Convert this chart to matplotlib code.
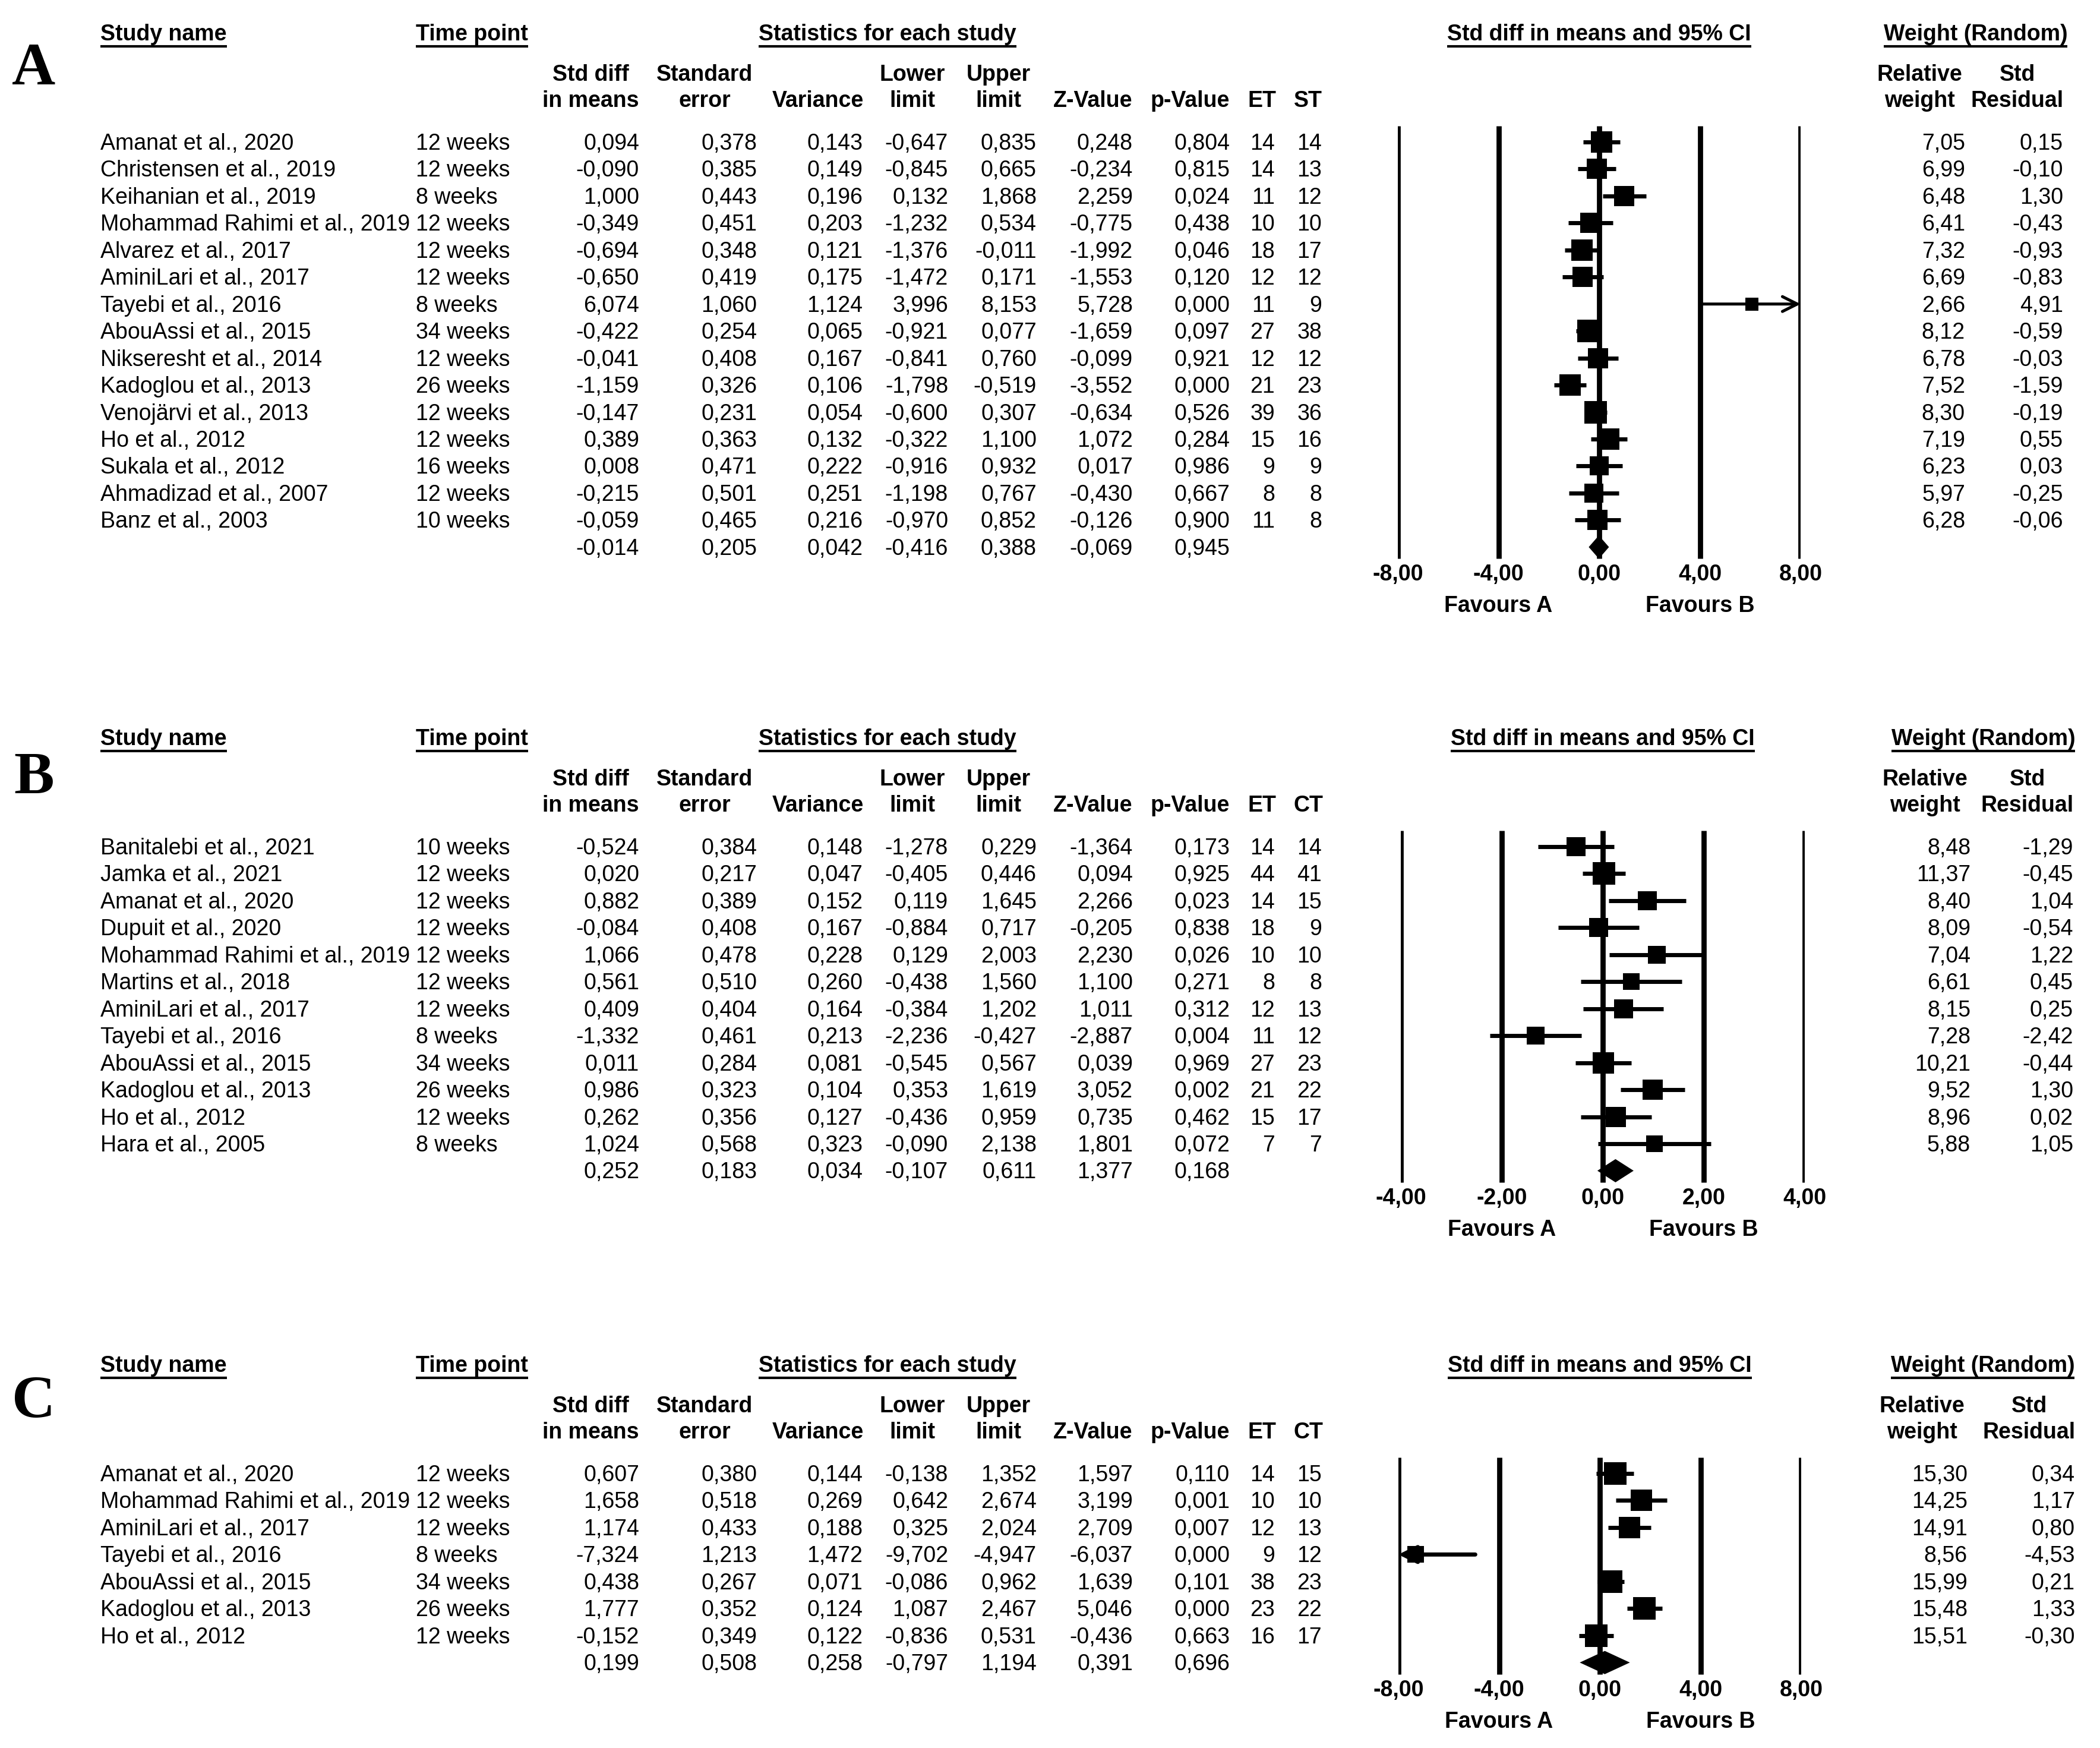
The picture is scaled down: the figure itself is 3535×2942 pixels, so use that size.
import matplotlib
matplotlib.use('Agg')
import matplotlib.pyplot as plt
import numpy as np

# ---- panel A (exercise vs standard treatment) ----
names_a = ["Amanat et al., 2020", "Christensen et al., 2019", "Keihanian et al., 2019",
           "Mohammad Rahimi et al., 2019", "Alvarez et al., 2017", "AminiLari et al., 2017",
           "Tayebi et al., 2016", "AbouAssi et al., 2015", "Nikseresht et al., 2014",
           "Kadoglou et al., 2013", "Venojärvi et al., 2013", "Ho et al., 2012",
           "Sukala et al., 2012", "Ahmadizad et al., 2007", "Banz et al., 2003"]
weeks_a = [12, 12, 8, 12, 12, 12, 8, 34, 12, 26, 12, 12, 16, 12, 10]
smd_a = [0.094, -0.090, 1.000, -0.349, -0.694, -0.650, 6.074, -0.422, -0.041, -1.159, -0.147, 0.389, 0.008, -0.215, -0.059]
se_a = [0.378, 0.385, 0.443, 0.451, 0.348, 0.419, 1.060, 0.254, 0.408, 0.326, 0.231, 0.363, 0.471, 0.501, 0.465]
var_a = [0.143, 0.149, 0.196, 0.203, 0.121, 0.175, 1.124, 0.065, 0.167, 0.106, 0.054, 0.132, 0.222, 0.251, 0.216]
lo_a = [-0.647, -0.845, 0.132, -1.232, -1.376, -1.472, 3.996, -0.921, -0.841, -1.798, -0.600, -0.322, -0.916, -1.198, -0.970]
hi_a = [0.835, 0.665, 1.868, 0.534, -0.011, 0.171, 8.153, 0.077, 0.760, -0.519, 0.307, 1.100, 0.932, 0.767, 0.852]
z_a = [0.248, -0.234, 2.259, -0.775, -1.992, -1.553, 5.728, -1.659, -0.099, -3.552, -0.634, 1.072, 0.017, -0.430, -0.126]
p_a = [0.804, 0.815, 0.024, 0.438, 0.046, 0.120, 0.000, 0.097, 0.921, 0.000, 0.526, 0.284, 0.986, 0.667, 0.900]
et_a = [14, 14, 11, 10, 18, 12, 11, 27, 12, 21, 39, 15, 9, 8, 11]
st_a = [14, 13, 12, 10, 17, 12, 9, 38, 12, 23, 36, 16, 9, 8, 8]
relw_a = [7.05, 6.99, 6.48, 6.41, 7.32, 6.69, 2.66, 8.12, 6.78, 7.52, 8.30, 7.19, 6.23, 5.97, 6.28]
resid_a = [0.15, -0.10, 1.30, -0.43, -0.93, -0.83, 4.91, -0.59, -0.03, -1.59, -0.19, 0.55, 0.03, -0.25, -0.06]
pooled_a = [-0.014, 0.205, 0.042, -0.416, 0.388, -0.069, 0.945]

# ---- panel B ----
names_b = ["Banitalebi et al., 2021", "Jamka et al., 2021", "Amanat et al., 2020",
           "Dupuit et al., 2020", "Mohammad Rahimi et al., 2019", "Martins et al., 2018",
           "AminiLari et al., 2017", "Tayebi et al., 2016", "AbouAssi et al., 2015",
           "Kadoglou et al., 2013", "Ho et al., 2012", "Hara et al., 2005"]
weeks_b = [10, 12, 12, 12, 12, 12, 12, 8, 34, 26, 12, 8]
smd_b = [-0.524, 0.020, 0.882, -0.084, 1.066, 0.561, 0.409, -1.332, 0.011, 0.986, 0.262, 1.024]
se_b = [0.384, 0.217, 0.389, 0.408, 0.478, 0.510, 0.404, 0.461, 0.284, 0.323, 0.356, 0.568]
var_b = [0.148, 0.047, 0.152, 0.167, 0.228, 0.260, 0.164, 0.213, 0.081, 0.104, 0.127, 0.323]
lo_b = [-1.278, -0.405, 0.119, -0.884, 0.129, -0.438, -0.384, -2.236, -0.545, 0.353, -0.436, -0.090]
hi_b = [0.229, 0.446, 1.645, 0.717, 2.003, 1.560, 1.202, -0.427, 0.567, 1.619, 0.959, 2.138]
z_b = [-1.364, 0.094, 2.266, -0.205, 2.230, 1.100, 1.011, -2.887, 0.039, 3.052, 0.735, 1.801]
p_b = [0.173, 0.925, 0.023, 0.838, 0.026, 0.271, 0.312, 0.004, 0.969, 0.002, 0.462, 0.072]
et_b = [14, 44, 14, 18, 10, 8, 12, 11, 27, 21, 15, 7]
ct_b = [14, 41, 15, 9, 10, 8, 13, 12, 23, 22, 17, 7]
relw_b = [8.48, 11.37, 8.40, 8.09, 7.04, 6.61, 8.15, 7.28, 10.21, 9.52, 8.96, 5.88]
resid_b = [-1.29, -0.45, 1.04, -0.54, 1.22, 0.45, 0.25, -2.42, -0.44, 1.30, 0.02, 1.05]
pooled_b = [0.252, 0.183, 0.034, -0.107, 0.611, 1.377, 0.168]

# ---- panel C ----
names_c = ["Amanat et al., 2020", "Mohammad Rahimi et al., 2019", "AminiLari et al., 2017",
           "Tayebi et al., 2016", "AbouAssi et al., 2015", "Kadoglou et al., 2013", "Ho et al., 2012"]
weeks_c = [12, 12, 12, 8, 34, 26, 12]
smd_c = [0.607, 1.658, 1.174, -7.324, 0.438, 1.777, -0.152]
se_c = [0.380, 0.518, 0.433, 1.213, 0.267, 0.352, 0.349]
var_c = [0.144, 0.269, 0.188, 1.472, 0.071, 0.124, 0.122]
lo_c = [-0.138, 0.642, 0.325, -9.702, -0.086, 1.087, -0.836]
hi_c = [1.352, 2.674, 2.024, -4.947, 0.962, 2.467, 0.531]
z_c = [1.597, 3.199, 2.709, -6.037, 1.639, 5.046, -0.436]
p_c = [0.110, 0.001, 0.007, 0.000, 0.101, 0.000, 0.663]
et_c = [14, 10, 12, 9, 38, 23, 16]
ct_c = [15, 10, 13, 12, 23, 22, 17]
relw_c = [15.30, 14.25, 14.91, 8.56, 15.99, 15.48, 15.51]
resid_c = [0.34, 1.17, 0.80, -4.53, 0.21, 1.33, -0.30]
pooled_c = [0.199, 0.508, 0.258, -0.797, 1.194, 0.391, 0.696]

ticks_a = [-8, -4, 0, 4, 8]
ticks_b = [-4, -2, 0, 2, 4]
ticks_c = [-8, -4, 0, 4, 8]

W, H = 3535, 2942
STEP = 45.45
SANS = 'Liberation Sans'
FS = 27

fig = plt.figure(figsize=(W / 100, H / 100), dpi=100)
tab = fig.add_axes([0, 0, 1, 1])
tab.set_xlim(0, W)
tab.set_ylim(H, 0)
tab.axis('off')
renderer = fig.canvas.get_renderer()


def fmt(v, d=3):
    return f"{v:.{d}f}".replace('.', ',')


def underlined(x, y, s, ha):
    t = tab.text(x, y, s, ha=ha, va='baseline', fontsize=FS, fontweight='bold', family=SANS)
    bb = t.get_window_extent(renderer=renderer)
    tab.plot([bb.x0, bb.x1], [y + 10, y + 10], color='black', lw=3, solid_capstyle='butt')


num_right = [1076, 1274, 1452, 1596, 1745, 1907, 2070, 2146, 2225]
heads = [(994, "Std diff", "in means"), (1186, "Standard", "error"), (1377, None, "Variance"),
         (1536, "Lower", "limit"), (1681, "Upper", "limit"), (1840, None, "Z-Value"),
         (2003, None, "p-Value"), (2124, None, "ET")]


def draw_panel(letter, letter_y, top, names, weeks, cols, et, ct, ct_label, relw, resid, pooled,
               ticks, fx, rw_r, res_r):
    n = len(names)
    row0 = top + 171
    tab.text(57, letter_y, letter, ha='center', va='baseline', fontsize=73,
             fontweight='bold', family='Liberation Serif')
    underlined(169, top, "Study name", 'left')
    underlined(700, top, "Time point", 'left')
    underlined(1494, top, "Statistics for each study", 'center')
    zero_px = fx[0] + (fx[1] - fx[0]) / 2
    underlined(zero_px, top, "Std diff in means and 95% CI", 'center')
    underlined((rw_r + res_r) / 2 - 65, top, "Weight (Random)", 'center')

    for cx, l1, l2 in heads + [(2202, None, ct_label)]:
        if l1:
            tab.text(cx, top + 68, l1, ha='center', va='baseline', fontsize=FS, fontweight='bold', family=SANS)
        tab.text(cx, top + 112, l2, ha='center', va='baseline', fontsize=FS, fontweight='bold', family=SANS)
    tab.text(rw_r - 77, top + 68, "Relative", ha='center', va='baseline', fontsize=FS, fontweight='bold', family=SANS)
    tab.text(rw_r - 77, top + 112, "weight", ha='center', va='baseline', fontsize=FS, fontweight='bold', family=SANS)
    tab.text(res_r - 77, top + 68, "Std", ha='center', va='baseline', fontsize=FS, fontweight='bold', family=SANS)
    tab.text(res_r - 77, top + 112, "Residual", ha='center', va='baseline', fontsize=FS, fontweight='bold', family=SANS)

    for i in range(n):
        yb = row0 + i * STEP + 13
        tab.text(169, yb, names[i], ha='left', va='baseline', fontsize=FS, family=SANS)
        tab.text(700, yb, f"{weeks[i]} weeks", ha='left', va='baseline', fontsize=FS, family=SANS)
        vals = [fmt(c[i]) for c in cols] + [str(et[i]), str(ct[i])]
        for xr, s in zip(num_right, vals):
            tab.text(xr, yb, s, ha='right', va='baseline', fontsize=FS, family=SANS)
        tab.text(rw_r, yb, fmt(relw[i], 2), ha='right', va='baseline', fontsize=FS, family=SANS)
        tab.text(res_r, yb, fmt(resid[i], 2), ha='right', va='baseline', fontsize=FS, family=SANS)
    yb = row0 + n * STEP + 13
    for xr, v in zip(num_right, pooled):
        tab.text(xr, yb, fmt(v), ha='right', va='baseline', fontsize=FS, family=SANS)

    # forest plot axes, rows counted downward from the first study
    R = ticks[-1]
    y_top = row0 - 1.5 * STEP
    y_bot = row0 + (n + 2.6) * STEP
    ax = fig.add_axes([fx[0] / W, 1 - y_bot / H, (fx[1] - fx[0]) / W, (y_bot - y_top) / H])
    ax.set_xlim(-R, R)
    ax.set_ylim(n + 2.6, -1.5)
    ax.axis('off')
    ax.vlines(ticks, -0.6, n + 0.43, color='black', lw=6.3, zorder=1)
    rows = np.arange(n)
    est = np.array(cols[0])
    lo = np.array(cols[3])
    hi = np.array(cols[4])
    lo_c = np.clip(lo, -R, R)
    hi_c = np.clip(hi, -R, R)
    for i in rows:
        if hi[i] > R:
            ax.annotate('', xy=(R, i), xytext=(lo_c[i], i), zorder=2,
                        arrowprops=dict(arrowstyle='->', lw=3.6, color='black',
                                        mutation_scale=45, shrinkA=0, shrinkB=0))
        elif lo[i] < -R:
            ax.annotate('', xy=(-R, i), xytext=(hi_c[i], i), zorder=2,
                        arrowprops=dict(arrowstyle='->', lw=5, color='black',
                                        mutation_scale=45, shrinkA=0, shrinkB=0))
        else:
            ax.hlines(i, lo_c[i], hi_c[i], color='black', lw=5, zorder=2)
    w = np.array(relw)
    side = 38 * np.sqrt(w / w.max()) * 0.72
    for i in rows:
        ax.plot(est[i], i, marker='s', ms=side[i], mew=0, color='black', zorder=3)
    e, l, h = pooled[0], pooled[3], pooled[4]
    d = 0.43
    ax.fill([l, e, h, e], [n, n - d, n, n + d], color='black', lw=0, zorder=3)
    for t in ticks:
        ax.text(t, n + 0.95 + 0.29, fmt(t, 2), ha='center', va='baseline', fontsize=FS,
                fontweight='bold', family=SANS)
    ax.text(-R / 2, n + 2.12 + 0.29, "Favours A", ha='center', va='baseline', fontsize=FS,
            fontweight='bold', family=SANS)
    ax.text(R / 2, n + 2.12 + 0.29, "Favours B", ha='center', va='baseline', fontsize=FS,
            fontweight='bold', family=SANS)


draw_panel("A", 142, 68, names_a, weeks_a, [smd_a, se_a, var_a, lo_a, hi_a, z_a, p_a],
           et_a, st_a, "ST", relw_a, resid_a, pooled_a, ticks_a, (2353, 3031), 3308, 3473)
draw_panel("B", 1336, 1254, names_b, weeks_b, [smd_b, se_b, var_b, lo_b, hi_b, z_b, p_b],
           et_b, ct_b, "CT", relw_b, resid_b, pooled_b, ticks_b, (2358, 3038), 3317, 3490)
draw_panel("C", 2386, 2309, names_c, weeks_c, [smd_c, se_c, var_c, lo_c, hi_c, z_c, p_c],
           et_c, ct_c, "CT", relw_c, resid_c, pooled_c, ticks_c, (2354, 3032), 3312, 3493)

fig.savefig('out.png', dpi=100)
